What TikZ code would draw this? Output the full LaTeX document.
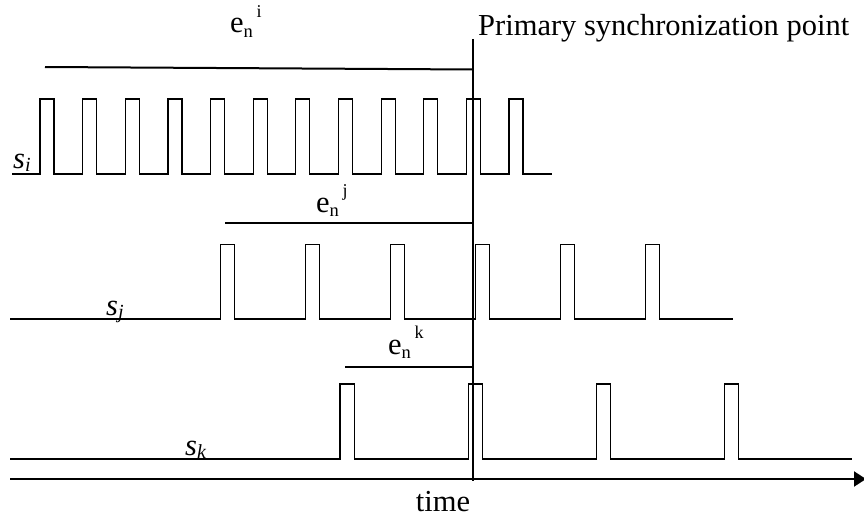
\documentclass[tikz,border=0pt]{standalone}
\usepackage{fontspec}
\setmainfont{Liberation Serif}
\usetikzlibrary{arrows.meta}
\newcommand\enlabel[1]{e\raisebox{-0.14em}{\fontsize{18.5}{20}\selectfont n}\hspace{0.12em}\raisebox{0.5em}{\fontsize{18}{20}\selectfont #1}}
\newcommand\slabel[1]{\textit{s}\raisebox{-0.12em}{\fontsize{20}{22}\selectfont\textit{#1}}}
\begin{document}
\begin{tikzpicture}[x=1pt,y=-1pt,
  sig/.style={line width=1.2pt, line join=miter},
  eline/.style={line width=2pt},
  syncline/.style={line width=2pt},
  axisline/.style={line width=2pt,-{Triangle[length=12pt,width=15pt]}},
  txt/.style={inner sep=0pt, anchor=base west, font=\fontsize{30.5}{36}\selectfont}]
\useasboundingbox (0,0) rectangle (864,519);
% signal s_i
\draw[sig] (12,174) foreach \k in {0,...,11} { -- ({40+42.64*\k},174) -- ++(0,-75) -- ++(14,0) -- ++(0,75) } -- (552,174);
% signal s_j
\draw[sig] (10,319) foreach \k in {0,...,5} { -- ({220.7+85*\k},319) -- ++(0,-74.7) -- ++(14,0) -- ++(0,74.7) } -- (733,319);
% signal s_k
\draw[sig] (10,459) foreach \k in {0,...,3} { -- ({340+128.1*\k},459) -- ++(0,-75) -- ++(14.3,0) -- ++(0,75) } -- (852,459);
% coordinates
\coordinate (synctop) at (473.3,39);
\coordinate (syncbot) at (473.3,481);
\coordinate (eistart) at (45,67);
\coordinate (eiend) at (473.3,69.5);
\coordinate (ejstart) at (225,223);
\coordinate (ejend) at (473.3,223);
\coordinate (ekstart) at (345,367);
\coordinate (ekend) at (473.3,367);
\coordinate (axstart) at (10,479);
\coordinate (axend) at (866,479);
% lines
\draw[syncline] (synctop) -- (syncbot);
\draw[eline] (eistart) -- (eiend);
\draw[eline] (ejstart) -- (ejend);
\draw[eline] (ekstart) -- (ekend);
\draw[axisline] (axstart) -- (axend);
% texts
\node[txt] (psp) at (478,36) {Primary synchronization point};
\node[txt] (ei) at (230,33) {\enlabel{i}};
\node[txt] (ej) at (316,212) {\enlabel{j}};
\node[txt] (ek) at (388,354) {\enlabel{k}};
\node[txt] (si) at (13,168) {\slabel{i}};
\node[txt] (sj) at (106,315) {\slabel{j}};
\node[txt] (sk) at (185,455) {\slabel{k}};
\node[txt, anchor=base] (time) at (443,511) {time};
\end{tikzpicture}
\end{document}
